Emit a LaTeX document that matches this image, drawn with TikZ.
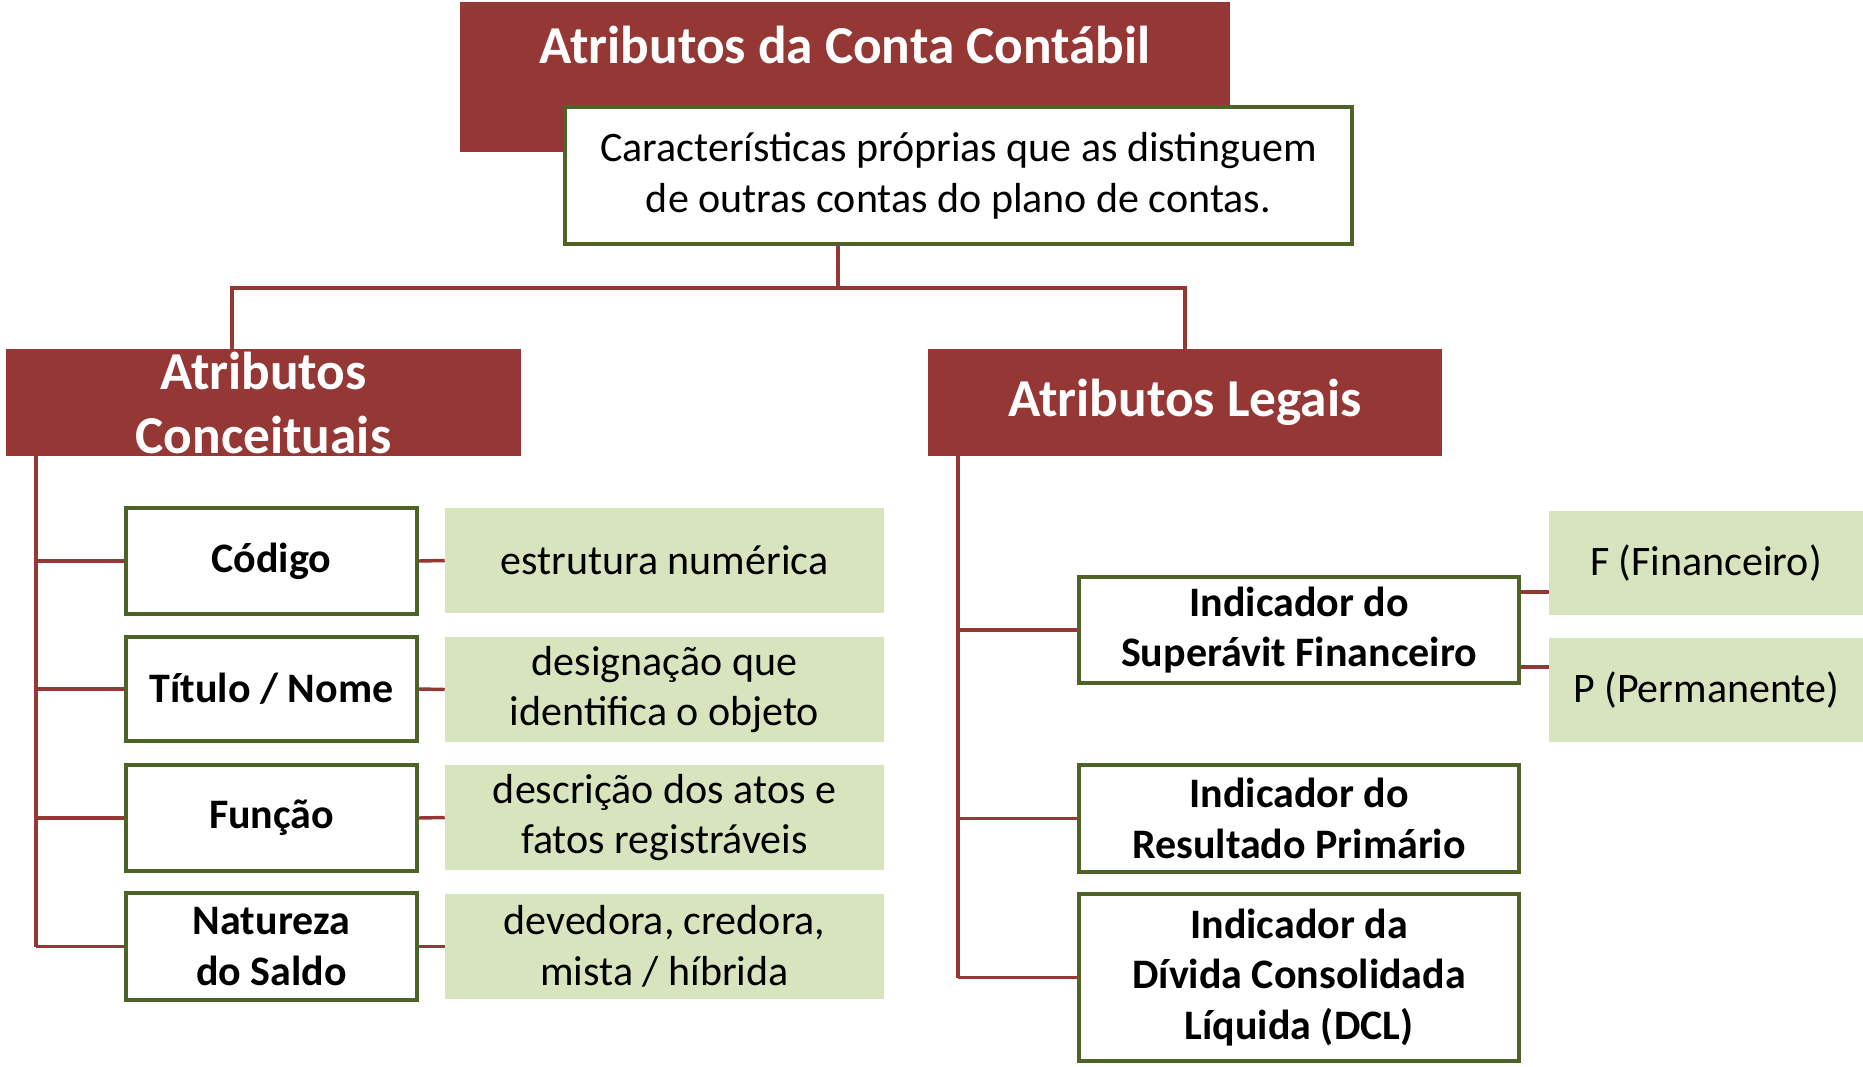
\documentclass[tikz,border=0pt]{standalone}
\usepackage{fontspec}
\setmainfont{Carlito}
\usetikzlibrary{calc}
\definecolor{accred}{HTML}{953735}
\definecolor{olivegreen}{HTML}{4F6228}
\definecolor{lightgreen}{HTML}{D7E4BD}
\tikzset{
  bx/.style n args={4}{minimum width={(#3-#1)*0.75pt}, minimum height={(#4-#2)*0.75pt},
    at={({(#1+#3)/2},{(#2+#4)/2})}},
  redbox/.style={fill=accred, draw=none, text=white, inner sep=0pt, align=center,
    font=\bfseries\fontsize{40}{48}\selectfont},
  whitebox/.style={draw=olivegreen, line width=3.2pt, fill=white, inner sep=0pt, align=center,
    font=\bfseries\fontsize{31.5}{38}\selectfont},
  greenbox/.style={fill=lightgreen, draw=none, inner sep=0pt, align=center,
    font=\fontsize{31.5}{38}\selectfont},
  conn/.style={draw=accred, line width=2.6pt}
}
\begin{document}
\begin{tikzpicture}[x=0.75pt,y=-0.75pt]
\useasboundingbox (0,0) rectangle (1863,1067);
% top
\node[redbox, bx={460}{2}{1230}{152}] (title) {};
\node[redbox] (titletxt) at (845,45) {Atributos da Conta Contábil};
\node[whitebox, font=\fontsize{31.5}{38}\selectfont, bx={565}{107}{1352}{244}] (desc)
  {Características próprias que as distinguem\\de outras contas do plano de contas.};
% level 2
\node[redbox, bx={6}{349}{521}{456}] (conc) {Atributos\\Conceituais};
\node[redbox, bx={928}{349}{1442}{456}] (legal) {Atributos Legais};
% left column
\node[whitebox, bx={126}{508}{417}{614}] (cod) {Código};
\node[whitebox, bx={126}{637}{417}{741}] (tit) {Título / Nome};
\node[whitebox, bx={126}{765}{417}{871}] (fun) {Função};
\node[whitebox, bx={126}{893}{417}{1000}] (nat) {Natureza\\do Saldo};
\node[greenbox, bx={445}{508}{884}{613}] (gcod) {estrutura numérica};
\node[greenbox, bx={445}{637}{884}{742}] (gtit) {designação que\\identifica o objeto};
\node[greenbox, bx={445}{765}{884}{870}] (gfun) {descrição dos atos e\\fatos registráveis};
\node[greenbox, bx={445}{894}{884}{999}] (gnat) {devedora, credora,\\mista / híbrida};
% right column
\node[whitebox, bx={1079}{577}{1519}{683}] (sup) {Indicador do\\Superávit Financeiro};
\node[whitebox, bx={1079}{765}{1519}{872}] (res) {Indicador do\\Resultado Primário};
\node[whitebox, bx={1079}{894}{1519}{1061}] (dcl) {Indicador da\\Dívida Consolidada\\Líquida (DCL)};
\node[greenbox, bx={1549}{511}{1863}{615}] (fin) {F (Financeiro)};
\node[greenbox, bx={1549}{638}{1863}{742}] (per) {P (Permanente)};
% connectors top
\coordinate (cd) at (232,288);
\coordinate (dx) at (838,0);
\draw[conn] (desc.south -| dx) -- (cd -| dx);
\draw[conn] (conc.north -| cd) -- (cd) -- (legal.north |- cd) -- (legal.north);
% left tree
\coordinate (lv) at (36,0);
\draw[conn] (conc.south -| lv) -- (nat.west -| lv);
\foreach \n in {cod,tit,fun,nat} \draw[conn] (\n.west -| lv) -- (\n.west);
\draw[conn] (cod.east) -- (gcod.west);
\draw[conn] (tit.east) -- (gtit.west);
\draw[conn] (fun.east) -- (gfun.west);
\draw[conn] (nat.east) -- (gnat.west);
% right tree
\coordinate (rv) at (958,0);
\draw[conn] (legal.south -| rv) -- (dcl.west -| rv);
\foreach \n in {sup,res,dcl} \draw[conn] (\n.west -| rv) -- (\n.west);
\draw[conn] ($(sup.east)+(0,-38)$) coordinate (sf) -- (sf -| fin.west);
\draw[conn] ($(sup.east)+(0,37)$) coordinate (sp) -- (sp -| per.west);
\end{tikzpicture}
\end{document}
